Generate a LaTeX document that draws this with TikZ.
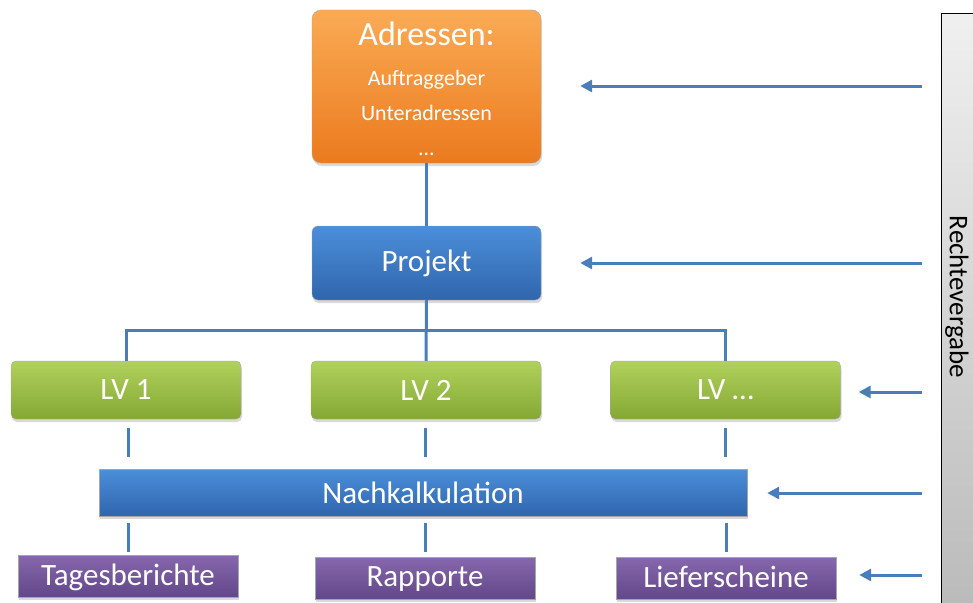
\documentclass[tikz,border=0pt]{standalone}
\usepackage{fontspec}
\setmainfont{Carlito}
\usetikzlibrary{arrows.meta,shadows}

\definecolor{linecol}{HTML}{4A7EBB}
\definecolor{orTop}{HTML}{FAAB55}
\definecolor{orBot}{HTML}{EB7A1E}
\definecolor{blTop}{HTML}{4C8EDA}
\definecolor{blBot}{HTML}{2F66AD}
\definecolor{grTop}{HTML}{B0D15C}
\definecolor{grBot}{HTML}{85A834}
\definecolor{puTop}{HTML}{8767AD}
\definecolor{puBot}{HTML}{62478A}

\tikzset{
  box/.style={text=white, draw=black!35, line width=.4pt,
    drop shadow={shadow xshift=1pt, shadow yshift=-3pt, opacity=.3}},
  adrbox/.style={box, rounded corners=9pt, top color=orTop, bottom color=orBot,
    minimum width=229pt, minimum height=153pt},
  projbox/.style={box, rounded corners=6pt, top color=blTop, bottom color=blBot,
    minimum width=229pt, minimum height=74pt, font=\fontsize{31}{34}\selectfont},
  lvbox/.style={box, rounded corners=5pt, top color=grTop, bottom color=grBot,
    minimum width=230pt, minimum height=58pt, font=\fontsize{31}{34}\selectfont},
  nkbox/.style={box, top color=blTop, bottom color=blBot,
    minimum width=648pt, minimum height=47pt, font=\fontsize{31}{34}\selectfont},
  belegbox/.style={box, top color=puTop, bottom color=puBot,
    minimum width=220pt, minimum height=42pt, font=\fontsize{31}{34}\selectfont},
  linie/.style={draw=linecol, line width=3pt},
  pfeil/.style={linie, -{Triangle[length=12pt,width=12pt]}},
}

\begin{document}
\begin{tikzpicture}[x=1pt,y=-1pt]
\useasboundingbox (0,0) rectangle (973,602);

% rechte Leiste
\shade[top color=black!6, bottom color=black!27, draw=black, line width=1pt]
  (941,14) rectangle (985,612);
\node[rotate=-90, font=\fontsize{27}{30}\selectfont] (rv) at (957,297) {Rechtevergabe};

% Kaesten
\node[adrbox] (adr) at (426.5,86.5) {};
\node[text=white, font=\fontsize{34}{38}\selectfont] (adrtitel) at (426.5,34) {Adressen:};
\node[text=white, font=\fontsize{22}{24}\selectfont, align=center] (adrtext) at (426.5,113)
  {Auftraggeber\\[11pt]Unteradressen\\[11pt]\ldots};
\node[projbox] (proj) at (426.5,263) {Projekt};

\node[lvbox] (lv1) at (126,390) {LV 1};
\node[lvbox] (lv2) at (426,390) {LV 2};
\node[lvbox] (lv3) at (725.5,390) {LV \ldots};

\node[nkbox] (nk) at (423,492.5) {Nachkalkulation};

\node[belegbox, text depth=2pt] (tb) at (128,576) {Tagesberichte};
\node[belegbox, text depth=2pt] (rp) at (425,578) {Rapporte};
\node[belegbox, text depth=2pt] (ls) at (726,578) {Lieferscheine};

% Verbindungen
\coordinate (hub) at (426.5,330);
\draw[linie] (adr.south) -- (proj.north);
\draw[linie] (proj.south) -- (lv2.north);
\draw[linie] (lv1.north) |- (hub) -| (lv3.north);

\draw[linie, shorten <=9pt, shorten >=12pt] ([xshift=2pt]lv1.south) -- ([xshift=2pt]lv1.south |- nk.north);
\draw[linie, shorten <=9pt, shorten >=12pt] ([xshift=-1pt]lv2.south) -- ([xshift=-1pt]lv2.south |- nk.north);
\draw[linie, shorten <=9pt, shorten >=12pt] (lv3.south) -- (lv3.south |- nk.north);

\draw[linie, shorten <=7pt, shorten >=3pt] (tb.north |- nk.south) -- (tb.north);
\draw[linie, shorten <=7pt, shorten >=5pt] (rp.north |- nk.south) -- (rp.north);
\draw[linie, shorten <=7pt, shorten >=5pt] (ls.north |- nk.south) -- (ls.north);

% Pfeile von der Rechtevergabe
\coordinate (r1) at (922,86);
\coordinate (r2) at (922,263);
\coordinate (r3) at (922,392);
\coordinate (r4) at (922,493);
\coordinate (r5) at (922,575);
\draw[pfeil, shorten >=39pt] (r1) -- (r1 -| adr.east);
\draw[pfeil, shorten >=39pt] (r2) -- (r2 -| proj.east);
\draw[pfeil, shorten >=18pt] (r3) -- (r3 -| lv3.east);
\draw[pfeil, shorten >=20pt] (r4) -- (r4 -| nk.east);
\draw[pfeil, shorten >=23pt] (r5) -- (r5 -| ls.east);
\end{tikzpicture}
\end{document}
